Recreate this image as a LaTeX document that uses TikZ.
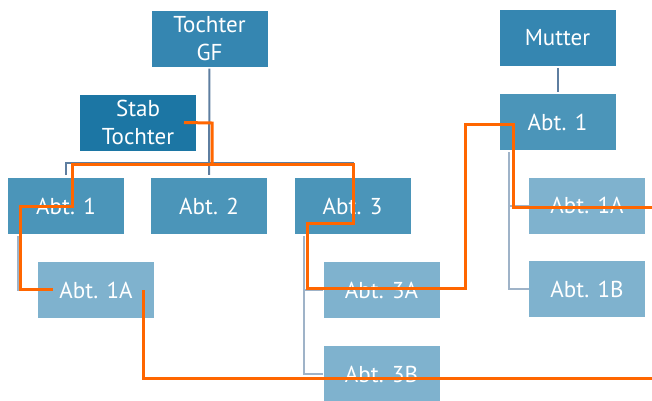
\documentclass[tikz,border=0pt]{standalone}
\usepackage{fontspec}
\setmainfont{PT Sans}
\usetikzlibrary{positioning, calc}
\definecolor{topblue}{HTML}{3586B1}
\definecolor{stabblue}{HTML}{1C76A4}
\definecolor{midblue}{HTML}{4B95B9}
\definecolor{lowblue}{HTML}{7FB2CE}
\definecolor{linedark}{HTML}{5E7EA0}
\definecolor{linelight}{HTML}{9FB3C8}
\definecolor{hiorange}{HTML}{FF6600}

\begin{document}
\begin{tikzpicture}[
  x=1pt, y=-1pt,
  obox/.style={fill=#1, text=white, minimum width=116pt, minimum height=56pt, align=center, inner sep=2pt, font=\fontsize{23}{28}\selectfont},
  tline/.style={draw=linedark, line width=2pt},
  sline/.style={draw=linelight, line width=2pt},
  hilite/.style={draw=hiorange, line width=3pt}
]
  \useasboundingbox (0,0) rectangle (652,400);
  % Tochter
  \node[obox=topblue] (gf) at (209.5,38.5) {Tochter\\GF};
  \node[obox=stabblue] (stab) at (138,122.5) {Stab\\Tochter};
  \node[obox=midblue] (abtA) at (66,206) {Abt. 1};
  \node[obox=midblue] (abtB) at (209,206) {Abt. 2};
  \node[obox=midblue] (abtC) at (352.5,206) {Abt. 3};
  \node[obox=lowblue] (abtAa) at (96,290) {Abt. 1A};
  \node[obox=lowblue] (abtCa) at (381.5,290) {Abt. 3A};
  \node[obox=lowblue] (abtCb) at (381.5,374) {Abt. 3B};
  % Mutter
  \node[obox=topblue] (mutter) at (557.5,38) {Mutter};
  \node[obox=midblue] (mabt) at (557.5,122) {Abt. 1};
  \node[obox=lowblue] (mabtA) at (587,205.5) {Abt. 1A};
  \node[obox=lowblue] (mabtB) at (587,289) {Abt. 1B};

  \draw[tline, shorten <=2pt, shorten >=3pt] (gf) -- (abtB);
  \draw[tline, shorten <=3pt, shorten >=3pt] (abtA.north) |- ($(gf.south)+(0,96)$) -| (abtC.north);
  \draw[tline, shorten <=2pt, shorten >=2pt] (mutter) -- (mabt);
  \draw[sline] ($(abtA.south west)+(10,2)$) |- (abtAa.west);
  \draw[sline] ($(abtC.south west)+(10,2)$) |- (abtCa.west);
  \draw[sline] ($(abtC.south west)+(10,2)$) |- (abtCb.west);
  \draw[sline] ($(mabt.south west)+(10,2)$) |- (mabtA.west);
  \draw[sline] ($(mabt.south west)+(10,2)$) |- (mabtB.west);

  % orange route
  \coordinate (outA) at (652,207);
  \coordinate (outB) at (652,378);
  \draw[hilite] ($(abtAa.west)+(15,-1)$) -- (20,289) -- (20,206) -- (72,206) -- (72,164)
    -- (353,164) -- (353,223) -- (307,223) -- (307,288) -- (465,288) -- (465,124)
    -- (513,124) -- (513,207) -- (outA);
  \draw[hilite] ($(stab.center)+(46,0)$) -- (212,123) -- (212,164);
  \draw[hilite] ($(abtAa.center)+(47,0)$) -- (143,378) -- (outB);
\end{tikzpicture}
\end{document}
